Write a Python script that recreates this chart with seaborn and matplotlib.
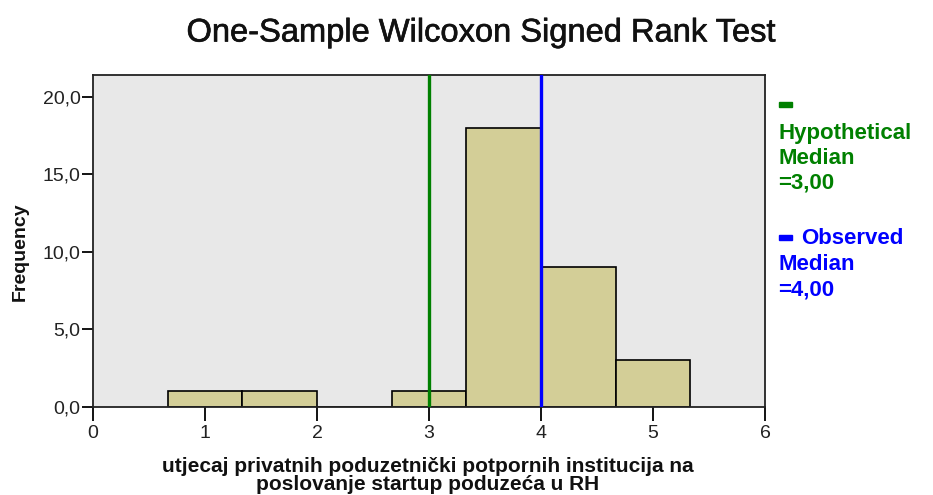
import matplotlib
matplotlib.use("Agg")
import matplotlib.pyplot as plt
import matplotlib.patheffects as pe
from matplotlib.patches import Rectangle
import seaborn as sns
import numpy as np

# Data
bin_edges = [0.6667, 1.3333, 2.0, 2.6667, 3.3333, 4.0, 4.6667, 5.3333]
counts = [1, 1, 0, 1, 18, 9, 3]
hypothetical_median = 3.0
observed_median = 4.0
x_ticks = [0, 1, 2, 3, 4, 5, 6]
y_ticks = [0, 5, 10, 15, 20]
y_tick_labels = ["0,0", "5,0", "10,0", "15,0", "20,0"]
title = "One-Sample Wilcoxon Signed Rank Test"
x_label_lines = ["utjecaj privatnih poduzetnički potpornih institucija na",
                 "poslovanje startup poduzeća u RH"]
y_label = "Frequency"

sns.set_style("white")
plt.rcParams["font.family"] = ["Liberation Sans", "DejaVu Sans"]

fig = plt.figure(figsize=(9.33, 4.95), dpi=100)
ax = fig.add_axes([93/933, 1-407/495, (765-93)/933, (407-75)/495])
ax.set_facecolor("#E8E8E8")

centers = [(bin_edges[i] + bin_edges[i+1]) / 2 for i in range(len(counts))]
sns.histplot(x=centers, weights=counts, bins=bin_edges, ax=ax,
             color="#D3CE97", edgecolor="black", linewidth=1.2, alpha=1.0)

ax.axvline(hypothetical_median, color="#008000", lw=2.4, zorder=5)
ax.axvline(observed_median, color="#0000FF", lw=2.4, zorder=5)

ax.set_xlim(0, 6)
ax.set_ylim(0, 21.4)
ax.set_xticks(x_ticks)
ax.set_xticklabels([str(t) for t in x_ticks])
ax.set_yticks(y_ticks)
ax.set_yticklabels(y_tick_labels)
ax.tick_params(axis="x", direction="out", length=10, width=1.3, color="black",
               labelsize=14, labelcolor="#222222", bottom=True, pad=3)
ax.tick_params(axis="y", direction="out", length=8, width=1.3, color="black",
               labelsize=14, labelcolor="#222222", left=True, pad=1)
for s in ax.spines.values():
    s.set_visible(True)
    s.set_color("#222222")
    s.set_linewidth(1.3)

ax.set_xlabel("")
ax.set_ylabel("")
fig.text(20/933, 1-252/495, y_label, fontsize=14, fontweight="bold",
         rotation=90, ha="center", va="center", color="#111111")
fig.text(428/933, 1-466/495, x_label_lines[0], fontsize=15, fontweight="bold",
         ha="center", va="center", color="#111111")
fig.text(428/933, 1-484/495, x_label_lines[1], fontsize=15, fontweight="bold",
         ha="center", va="center", color="#111111")

fig.text(481/933, 1-33/495, title, fontsize=23.5, ha="center", va="center", color="#111111",
         path_effects=[pe.withStroke(linewidth=0.45, foreground="#111111")])

# Legend-like annotations on the right
green = "#008000"
blue = "#0000FF"
fig.patches.append(Rectangle((779/933, 1-107/495), 13/933, 5/495,
                             transform=fig.transFigure, color=green))
for txt, y in [("Hypothetical", 133), ("Median", 158), ("=3,00", 183)]:
    fig.text(778/933, 1-y/495, txt, color=green, fontsize=16, fontweight="bold",
             va="center", ha="left")
fig.patches.append(Rectangle((779/933, 1-240/495), 13/933, 5/495,
                             transform=fig.transFigure, color=blue))
for txt, x, y in [("Observed", 801, 238), ("Median", 778, 265), ("=4,00", 778, 290)]:
    fig.text(x/933, 1-y/495, txt, color=blue, fontsize=16, fontweight="bold",
             va="center", ha="left")

fig.savefig("out.png", dpi=100)
